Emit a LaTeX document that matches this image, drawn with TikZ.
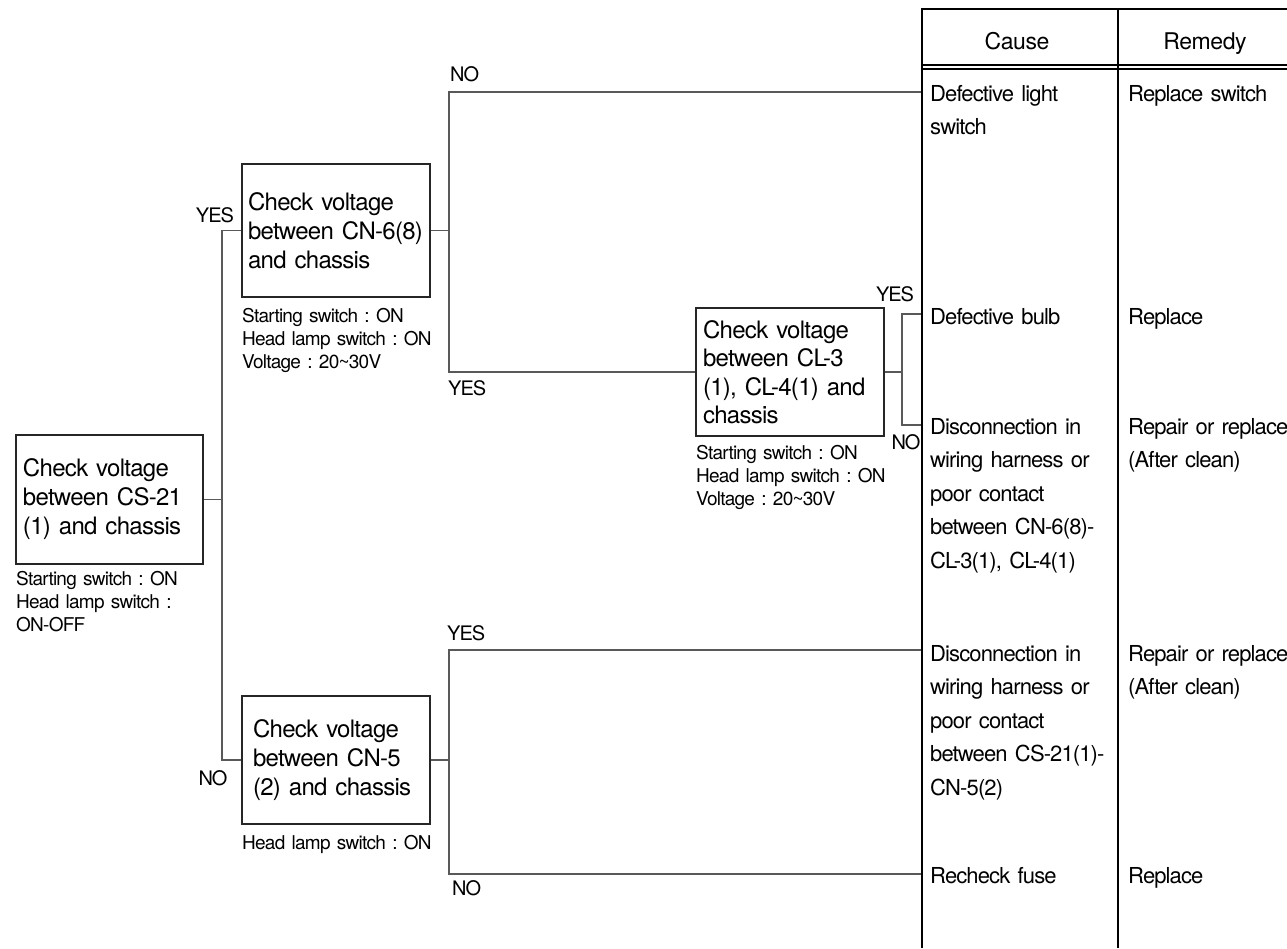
\documentclass[tikz,border=0pt]{standalone}
\usepackage{fontspec}
\setmainfont{TeX Gyre Heros}
\newfontfamily\boxfont{TeX Gyre Heros}[LetterSpace=-3,WordSpace=0.8]
\newfontfamily\cellfont{TeX Gyre Heros}[LetterSpace=-4,WordSpace=0.9]
\newfontfamily\notefont{TeX Gyre Heros}[LetterSpace=-4,WordSpace=0.7]
\newfontfamily\lblfont{TeX Gyre Heros}[LetterSpace=-5]
\newfontfamily\headfont{TeX Gyre Heros}[LetterSpace=-2]
\frenchspacing
\begin{document}
\begin{tikzpicture}[x=1pt,y=-1pt,
  box/.style={draw=black!85,line width=1.6pt,rectangle,align=left,inner ysep=0pt,
     font=\boxfont\fontsize{24}{29}\selectfont},
  conn/.style={draw=black!65,line width=1.4pt},
  note/.style={anchor=north west,inner sep=0pt,align=left,text width=210,
     font=\notefont\fontsize{19}{23}\selectfont},
  lbl/.style={inner sep=0pt,font=\lblfont\fontsize{20}{22}\selectfont},
  cell/.style={anchor=north west,inner sep=0pt,align=left,text width=185,
     font=\cellfont\fontsize{22}{33.5}\selectfont},
  rcell/.style={anchor=north west,inner sep=0pt,align=left,text width=175,
     font=\cellfont\fontsize{22}{33}\selectfont},
  head/.style={inner sep=0pt,anchor=base,font=\headfont\fontsize{23}{26}\selectfont}]
\useasboundingbox (0,0) rectangle (1287,948);

% decision boxes
\node[box,minimum width=187,minimum height=129,text width=173,inner xsep=7] (b1) at (109.5,499.5)
  {Check voltage\\between CS-21\\(1) and chassis};
\node[box,minimum width=188,minimum height=133,text width=176,inner xsep=6] (b2) at (336,230.5)
  {Check voltage\\\mbox{between CN-6(8)}\\and chassis};
\node[box,minimum width=188,minimum height=128,text width=174,inner xsep=7,
  font=\boxfont\fontsize{24}{28.5}\selectfont] (b3) at (790,372)
  {Check voltage\\between CL-3\\\mbox{(1), CL-4(1) and}\\chassis};
\node[box,minimum width=188,minimum height=128,text width=166,inner xsep=11] (b4) at (336,760)
  {Check voltage\\between CN-5\\(2) and chassis};

% condition notes
\node[note] (n1) at (16,571) {Starting switch : ON\\Head lamp switch :\\ON-OFF};
\node[note] (n2) at (242,308) {Starting switch : ON\\Head lamp switch : ON\\Voltage : 20\textasciitilde 30V};
\node[note] (n3) at (696,445) {Starting switch : ON\\Head lamp switch : ON\\Voltage : 20\textasciitilde 30V};
\node[note] (n4) at (242,835) {Head lamp switch : ON};

% junction x positions
\coordinate (x1) at (222,0);
\coordinate (x2) at (449,0);
\coordinate (x3) at (902,0);
% table entry points
\coordinate (r1) at (922,92);
\coordinate (r2) at (922,314);
\coordinate (r3) at (922,425);
\coordinate (r4) at (922,650);
\coordinate (r5) at (922,874);

% connectors
\draw[conn] (b1.east) -- (b1.east -| x1);
\draw[conn] (b2.west) -| (b4.west -| x1) -- (b4.west);
\draw[conn] (b2.east) -- (b2.east -| x2);
\draw[conn] (r1) -| (b3.west -| x2) -- (b3.west);
\draw[conn] (b3.east) -- (b3.east -| x3);
\draw[conn] (r2) -| (r3 -| x3) -- (r3);
\draw[conn] (b4.east) -- (b4.east -| x2);
\draw[conn] (r4) -| (r5 -| x2) -- (r5);

% branch labels
\node[lbl] (l1) at (215,215) {YES};
\node[lbl] (l2) at (213,778) {NO};
\node[lbl,anchor=west] (l3) at (450,74) {NO};
\node[lbl,anchor=west] (l4) at (448,388) {YES};
\node[lbl,anchor=west] (l5) at (447,633) {YES};
\node[lbl,anchor=west] (l6) at (452,888) {NO};
\node[lbl] (l7) at (895,294) {YES};
\node[lbl] (l8) at (906,442) {NO};

% table
\draw[black,line width=2.6pt] (922,948) -- (922,9) -- (1287,9);
\draw[black,line width=1.2pt] (1118,9) -- (1118,948);
\draw[black,line width=1.1pt] (922,65) -- (1287,65);
\draw[black,line width=1.1pt] (922,69) -- (1287,69);
\node[head] (h1) at (1017,49) {Cause};
\node[head] (h2) at (1205,49) {Remedy};

\node[cell] (c1) at (930,85) {Defective light\\switch};
\node[cell] (c2) at (930,308) {Defective bulb};
\node[cell] (c3) at (930,418) {Disconnection in\\wiring harness or\\poor contact\\between CN-6(8)-\\CL-3(1), CL-4(1)};
\node[cell] (c4) at (930,645) {Disconnection in\\wiring harness or\\poor contact\\between CS-21(1)-\\CN-5(2)};
\node[cell] (c5) at (930,867) {Recheck fuse};

\node[rcell] (m1) at (1128,85) {Replace switch};
\node[rcell] (m2) at (1128,308) {Replace};
\node[rcell] (m3) at (1128,418) {Repair or replace\\(After clean)};
\node[rcell] (m4) at (1128,645) {Repair or replace\\(After clean)};
\node[rcell] (m5) at (1128,867) {Replace};
\end{tikzpicture}
\end{document}
